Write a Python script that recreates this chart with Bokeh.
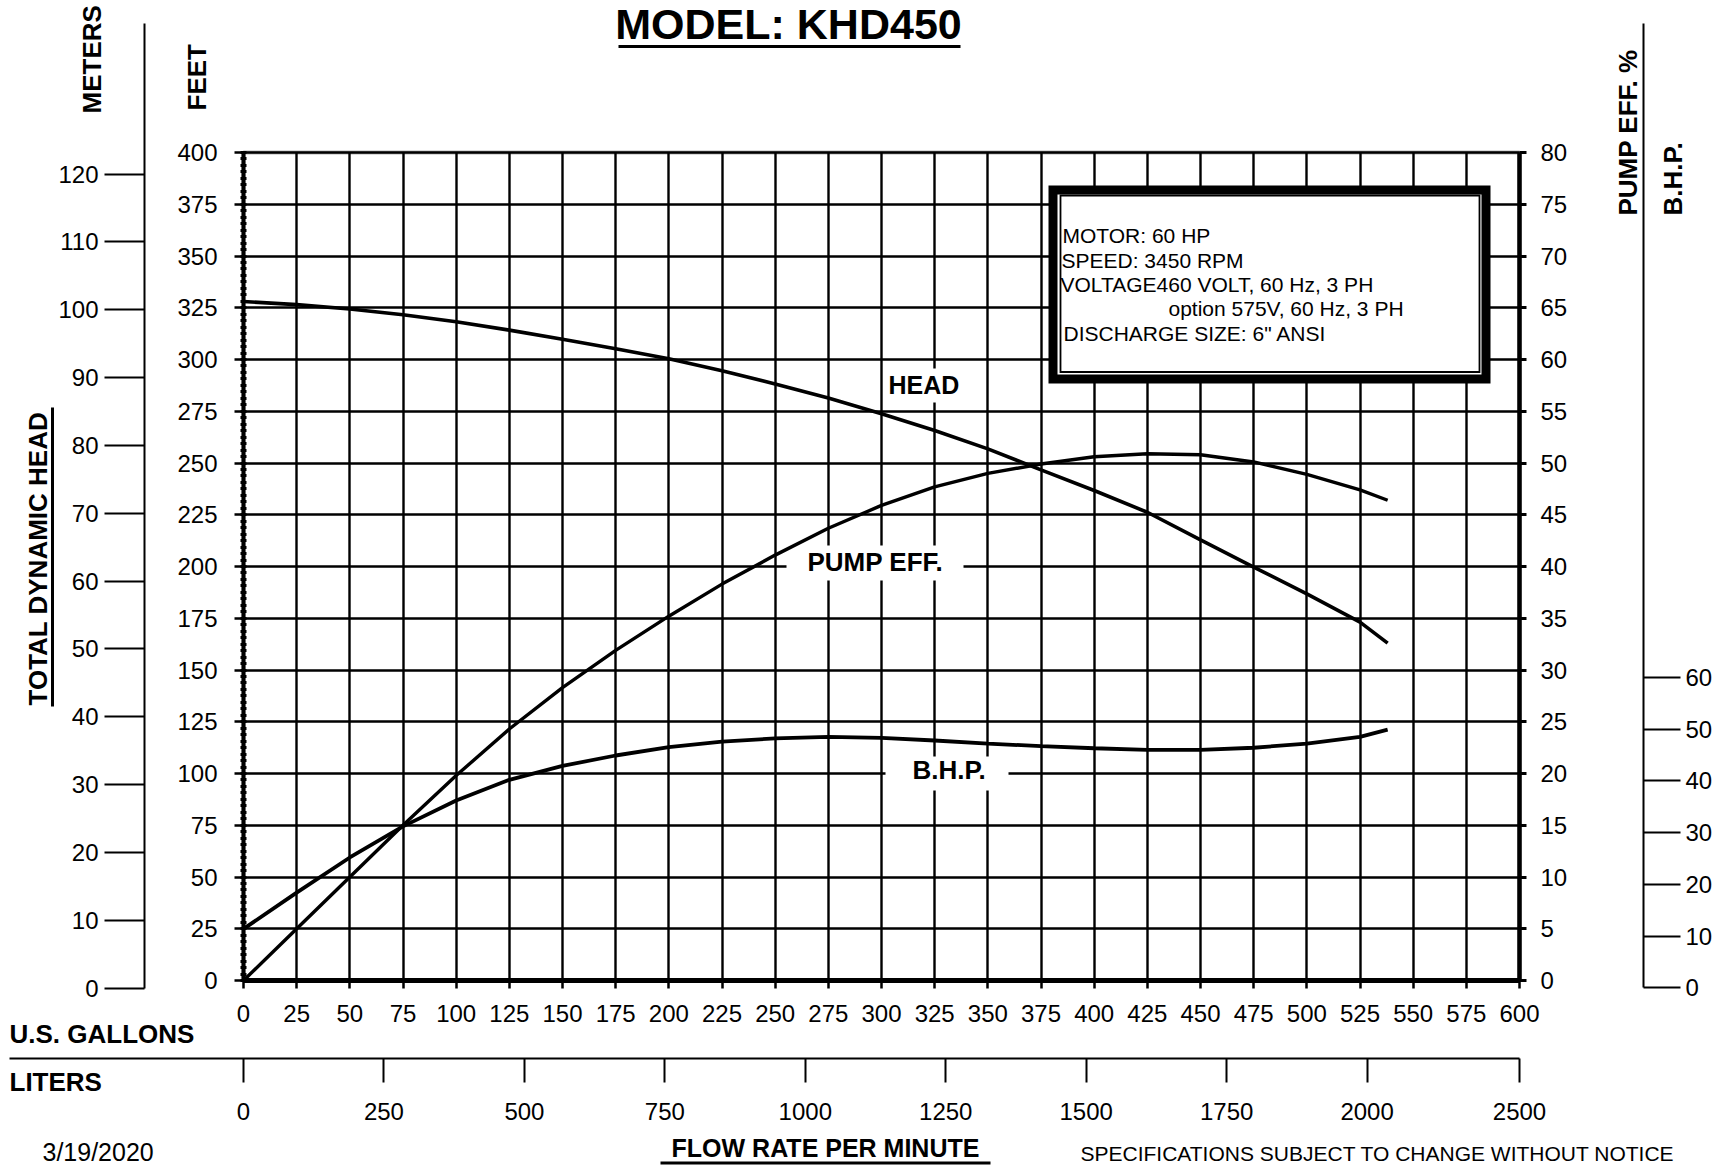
import math
from bokeh.plotting import figure
from bokeh.models import (Range1d, LinearAxis, SingleIntervalTicker, FixedTicker,
                          Label, Arrow, Grid, BoxAnnotation)
from bokeh.embed import file_html
from bokeh.resources import INLINE

# ---------------- data ----------------
FLOW_GPM = [0, 25, 50, 75, 100, 125, 150, 175, 200, 225, 250, 275, 300,
            325, 350, 375, 400, 425, 450, 475, 500, 525, 538]
HEAD_FT = [328.0, 326.5, 324.4, 321.6, 318.2, 314.2, 309.8, 305.2, 300.4,
           294.6, 288.2, 281.4, 273.8, 265.7, 256.8, 246.7, 236.7, 226.2,
           212.9, 199.7, 186.8, 173.1, 163.0]
EFF_PCT = [0.0, 5.0, 10.0, 15.0, 19.8, 24.3, 28.3, 31.9, 35.2, 38.3, 41.1,
           43.7, 45.9, 47.7, 49.0, 49.9, 50.6, 50.9, 50.8, 50.1, 48.9, 47.4, 46.4]
BHP_HP = [11.4, 18.4, 25.2, 31.2, 36.2, 40.2, 42.9, 44.9, 46.5, 47.6, 48.2,
          48.5, 48.3, 47.8, 47.2, 46.7, 46.3, 46.0, 46.0, 46.4, 47.2, 48.5, 49.9]

GPM_MAX, FT_MAX, PCT_MAX = 600, 400, 80
FT_PER_PCT = 5.0
L_PER_GAL = 3.785411784
GPM_STEP, FT_STEP, PCT_STEP = 25, 25, 5
METER_TICKS = [0, 10, 20, 30, 40, 50, 60, 70, 80, 90, 100, 110, 120]
BHP_TICKS = [0, 10, 20, 30, 40, 50, 60]
LITER_TICKS = [0, 250, 500, 750, 1000, 1250, 1500, 1750, 2000]
LITER_END_LABEL = "2500"

TITLE = "MODEL: KHD450"
INFO_LINES = ["MOTOR: 60 HP", "SPEED: 3450 RPM", "VOLTAGE460 VOLT, 60 Hz, 3 PH",
              "option 575V, 60 Hz, 3 PH", 'DISCHARGE SIZE: 6" ANSI']

# ---------------- layout (canvas pixels) ----------------
W, H = 1734, 1167
GX0, GX1 = 243, 1519          # 0 and 600 gpm
GY0, GY1 = 980, 152           # 0 and 400 ft
PXX = (GX1 - GX0) / GPM_MAX
PXY = (GY0 - GY1) / FT_MAX
M_ZERO, M_PX = 987.6, 6.783   # meters scale as drawn on the sheet
B_ZERO, B_PX = 987.4, 5.176   # B.H.P. scale as drawn on the sheet
BASE_SHIFT = 0.42             # renderer baseline correction (em)


def gx(px):
    return (px - GX0) / PXX


def fy(py):
    return (GY0 - py) / PXY


def my(py):
    return (M_ZERO - py) / M_PX


def by(py):
    return (B_ZERO - py) / B_PX


FONT = "Liberation Sans"
lit_end = GPM_MAX * L_PER_GAL

p = figure(width=W, height=H, x_range=Range1d(gx(0), gx(W)), y_range=Range1d(fy(H), fy(0)),
           x_axis_location=None, y_axis_location=None,
           output_backend="svg", toolbar_location=None,
           min_border_left=0, min_border_right=0, min_border_top=0, min_border_bottom=0)
p.center = []
p.extra_y_ranges = {"m": Range1d(my(H), my(0)),
                    "eff": Range1d(fy(H) / FT_PER_PCT, fy(0) / FT_PER_PCT),
                    "bhp": Range1d(by(H), by(0))}
p.extra_x_ranges = {"lit": Range1d(gx(0) * L_PER_GAL, gx(W) * L_PER_GAL)}
p.background_fill_color = "white"
p.border_fill_color = "white"
p.outline_line_color = None


def style_axis(ax, line_w=2.0):
    ax.axis_line_color = "black"
    ax.axis_line_width = line_w
    ax.major_tick_line_color = "black"
    ax.major_tick_line_width = 2.5
    ax.major_tick_in = 0
    ax.minor_tick_line_color = None
    ax.major_label_text_font = FONT
    ax.major_label_text_font_size = "24px"
    ax.major_label_text_color = "black"


# grids (only inside the chart area)
for dim, bnd, cb in [(0, (0, GPM_MAX), (0, FT_MAX)), (1, (0, FT_MAX), (0, GPM_MAX))]:
    g = Grid(dimension=dim, ticker=SingleIntervalTicker(interval=GPM_STEP if dim == 0 else FT_STEP,
                                                        num_minor_ticks=0),
             bounds=bnd, grid_line_color="black", grid_line_width=2.4)
    if "cross_bounds" in Grid.properties():
        g.cross_bounds = cb
    p.add_layout(g, "center")

# feet
ya = LinearAxis(fixed_location=0, bounds=(0, FT_MAX),
                ticker=SingleIntervalTicker(interval=FT_STEP, num_minor_ticks=8))
style_axis(ya, 4)
ya.major_tick_out = 9
ya.minor_tick_line_color = "black"
ya.minor_tick_line_width = 3
ya.minor_tick_in = 3
ya.minor_tick_out = 3
ya.major_label_standoff = 17
p.add_layout(ya, "left")

# meters
ma = LinearAxis(y_range_name="m", fixed_location=gx(144), bounds=(0, my(23)),
                ticker=FixedTicker(ticks=METER_TICKS))
style_axis(ma, 2)
ma.major_tick_out = 40
ma.major_tick_line_width = 2
ma.major_label_standoff = 6
p.add_layout(ma, "left")

# pump efficiency
ea = LinearAxis(y_range_name="eff", fixed_location=GPM_MAX, bounds=(0, PCT_MAX),
                ticker=SingleIntervalTicker(interval=PCT_STEP, num_minor_ticks=0))
style_axis(ea, 4.5)
ea.major_tick_out = 7
ea.major_tick_line_width = 3
ea.major_label_standoff = 14
p.add_layout(ea, "right")

# B.H.P.
ba = LinearAxis(y_range_name="bhp", fixed_location=gx(1643), bounds=(0, by(23)),
                ticker=FixedTicker(ticks=BHP_TICKS))
style_axis(ba, 2)
ba.major_tick_out = 37
ba.major_tick_line_width = 2
ba.major_label_standoff = 5
p.add_layout(ba, "right")

# US gallons
xa = LinearAxis(fixed_location=0, bounds=(0, GPM_MAX),
                ticker=SingleIntervalTicker(interval=GPM_STEP, num_minor_ticks=0))
style_axis(xa, 5)
xa.major_tick_out = 8
xa.major_label_standoff = 16
p.add_layout(xa, "below")

# liters
la = LinearAxis(x_range_name="lit", fixed_location=fy(1058), bounds=(gx(9) * L_PER_GAL, lit_end),
                ticker=FixedTicker(ticks=LITER_TICKS + [lit_end]),
                major_label_overrides={lit_end: LITER_END_LABEL})
style_axis(la, 2)
la.major_tick_out = 24
la.major_tick_line_width = 2
la.major_label_standoff = 20
p.add_layout(la, "below")

# white patches behind curve labels (cover grid)
for (l, r, t, b) in [(884, 966, 368, 402), (786, 963, 545, 580), (885, 1008, 756, 790)]:
    p.quad(left=[gx(l)], right=[gx(r)], top=[fy(t)], bottom=[fy(b)],
           fill_color="white", line_color=None)

# info box
p.quad(left=[gx(1052.5)], right=[gx(1485.5)], top=[fy(189.5)], bottom=[fy(378.5)],
       fill_color="white", line_color="black", line_width=9, line_join="miter")
p.quad(left=[gx(1060)], right=[gx(1479)], top=[fy(195)], bottom=[fy(371.5)],
       fill_color=None, line_color="black", line_width=1.8, line_join="miter")

# curves
p.line(FLOW_GPM, HEAD_FT, line_color="black", line_width=3.6)
p.line(FLOW_GPM, EFF_PCT, line_color="black", line_width=3.4, y_range_name="eff")
p.line(FLOW_GPM, BHP_HP, line_color="black", line_width=3.8, y_range_name="bhp")

# chart border
p.add_layout(BoxAnnotation(left=0, right=GPM_MAX, bottom=0, top=FT_MAX,
                           fill_color=None, line_color="black", line_width=4))


def add_text(txt, px, py, size, bold=False, align="left", angle=0.0):
    # (px, py) is where the text baseline should sit on the canvas
    if angle == 0.0:
        py = py - BASE_SHIFT * size
    else:
        px = px - BASE_SHIFT * size
    p.add_layout(Label(x=gx(px), y=fy(py), text=txt, text_font=FONT,
                       text_font_size=f"{size}px",
                       text_font_style="bold" if bold else "normal",
                       text_color="black", text_align=align,
                       text_baseline="alphabetic", angle=angle))


def add_line(px0, py0, px1, py1, w):
    p.add_layout(Arrow(end=None, x_start=gx(px0), y_start=fy(py0),
                       x_end=gx(px1), y_end=fy(py1),
                       line_width=w, line_color="black"))


UP = math.pi / 2
add_text(TITLE, 788, 42, 43, bold=True, align="center")
add_line(618, 46, 960, 46, 3)

add_text("METERS", 102, 113, 26, bold=True, angle=UP)
add_text("FEET", 207, 110, 26, bold=True, angle=UP)
add_text("PUMP EFF. %", 1638, 215, 26, bold=True, angle=UP)
add_text("B.H.P.", 1683, 215, 26, bold=True, angle=UP)
add_text("TOTAL DYNAMIC HEAD", 48, 705, 26, bold=True, angle=UP)
add_line(52, 407, 52, 706, 3)

add_text("HEAD", 888, 395, 25, bold=True)
add_text("PUMP EFF.", 807, 572, 26, bold=True)
add_text("B.H.P.", 912, 780, 26, bold=True)

for i, (txt, x0) in enumerate(zip(INFO_LINES, [1062, 1061, 1060, 1168, 1063])):
    add_text(txt, x0, 244 + i * 24.4, 21)

add_text("U.S. GALLONS", 9, 1044, 26, bold=True)
add_text("LITERS", 9, 1092, 26, bold=True)
add_text("3/19/2020", 42, 1162, 25)
add_text("FLOW RATE PER MINUTE", 825, 1157.5, 25, bold=True, align="center")
add_line(660, 1162.5, 990, 1162.5, 3)
add_text("SPECIFICATIONS SUBJECT TO CHANGE WITHOUT NOTICE", 1080, 1162, 21)

open("out.html", "w").write(file_html(p, INLINE))
